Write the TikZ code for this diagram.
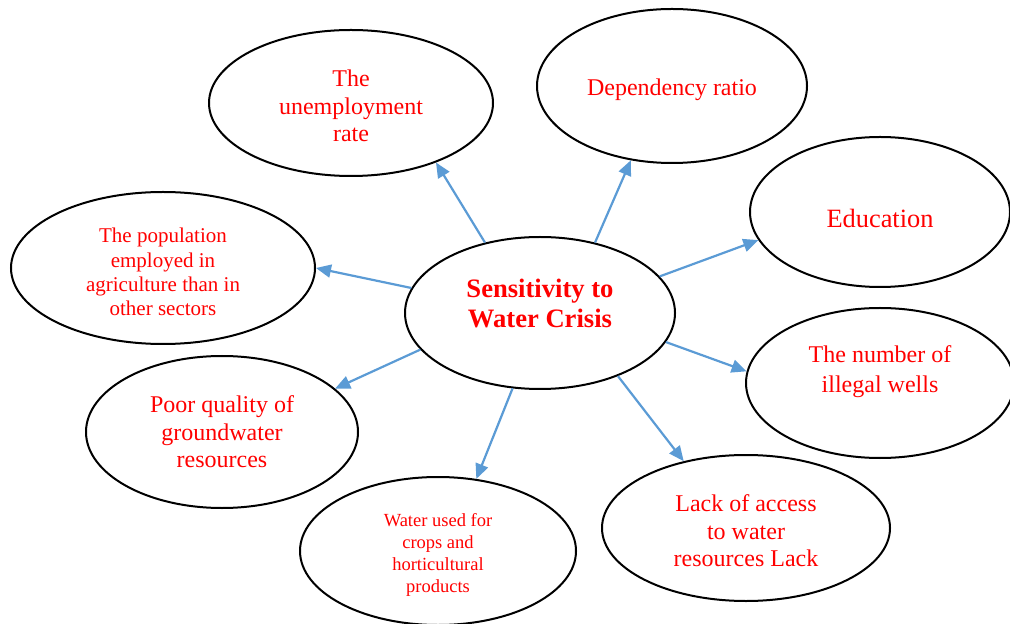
\documentclass[tikz,border=0pt]{standalone}
\usepackage{fontspec}
\setmainfont{Liberation Serif}
\usetikzlibrary{arrows.meta,shapes.geometric}

\definecolor{linkblue}{HTML}{5B9BD5}
\definecolor{txtred}{HTML}{FF0000}

\tikzset{
  blob/.style={ellipse,draw,line width=1pt,inner sep=0pt},
  lbl/.style={text=txtred,align=center,font=\fontsize{12}{13.75}\selectfont},
  link/.style={draw=linkblue,line width=1.1pt,-{Triangle[length=7.5pt,width=6.5pt]}}
}

\begin{document}
\begin{tikzpicture}[x=0.5pt,y=-0.5pt]
      \useasboundingbox (0,0) rectangle (1010,624);
      % centre
      \node[blob,minimum width=135pt,minimum height=76pt,
        label={[lbl,yshift=5pt,font=\fontsize{13.3}{15}\selectfont\bfseries]center:Sensitivity to\\Water Crisis}] (c) at (540,313) {};
      % factors
      \node[blob,minimum width=142pt,minimum height=73pt,
        label={[lbl,yshift=-1.5pt]center:The\\unemployment\\rate}] (u) at (351,103) {};
      \node[blob,minimum width=135pt,minimum height=77pt,
        label={[lbl,yshift=-2pt]center:Dependency ratio}] (d) at (672,86) {};
      \node[blob,minimum width=130pt,minimum height=75pt,
        label={[lbl,yshift=-3pt,font=\fontsize{13.2}{15}\selectfont]center:Education}] (e) at (880,212) {};
      \node[blob,minimum width=134pt,minimum height=75pt,
        label={[lbl,yshift=5.5pt,font=\fontsize{12}{15}\selectfont]center:The number of\\illegal wells}] (w) at (880,383) {};
      \node[blob,minimum width=144pt,minimum height=73pt,
        label={[lbl,yshift=-1.5pt]center:Lack of access\\to water\\resources Lack}] (l) at (746,528) {};
      \node[blob,minimum width=138pt,minimum height=74pt,
        label={[lbl,yshift=-2pt,font=\fontsize{9.25}{10.85}\selectfont]center:Water used for\\crops and\\horticultural\\products}] (wu) at (438,551) {};
      \node[blob,minimum width=136pt,minimum height=76pt,
        label={[lbl]center:Poor quality of\\groundwater\\resources}] (p) at (222,432) {};
      \node[blob,minimum width=152pt,minimum height=76pt,
        label={[lbl,yshift=-2pt,font=\fontsize{10.5}{12.15}\selectfont]center:The population\\employed in\\agriculture than in\\other sectors}] (pop) at (163,268) {};
      % arrows
      \foreach \a/\t/\b in {128.6/u/-35.5, 52/d/-119, 17.5/e/-167.5, -13.5/w/175.4,
                           -39.8/l/133.7, -110/wu/62.8, -163.6/p/21.6, 169.3/pop/0.4}
        \draw[link] (c.\a) -- (\t.\b);
    \end{tikzpicture}
\end{document}
